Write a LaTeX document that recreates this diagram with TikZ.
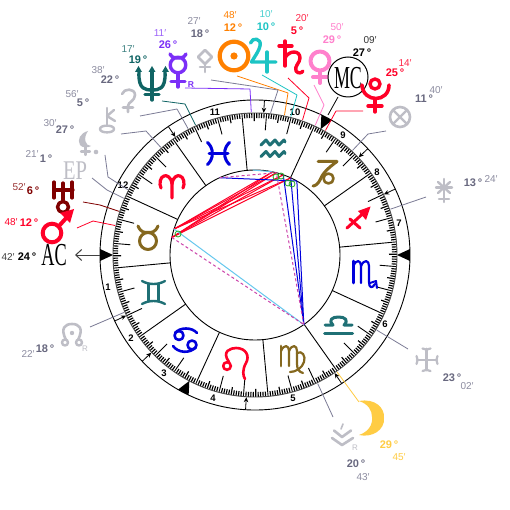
\documentclass[tikz,border=0pt]{standalone}
\usepackage{fontspec}
\setmainfont{Liberation Sans}
\newfontfamily\serifcond{Liberation Serif}
\usetikzlibrary{arrows.meta}
\definecolor{cred}{HTML}{FF0028}
\definecolor{cblue}{HTML}{0000DC}
\definecolor{cteal}{HTML}{1F7075}
\definecolor{colive}{HTML}{85681F}
\definecolor{csun}{HTML}{FF8000}
\definecolor{cjup}{HTML}{1CC4C4}
\definecolor{cven}{HTML}{FF80CC}
\definecolor{cmer}{HTML}{7B2FF7}
\definecolor{cnep}{HTML}{106464}
\definecolor{cura}{HTML}{800000}
\definecolor{cmoo}{HTML}{FFCC44}
\definecolor{cgly}{HTML}{BEBEC6}
\definecolor{ctxt}{HTML}{68687F}
\definecolor{cmin}{HTML}{8C8CA0}
\definecolor{clead}{HTML}{7C7C96}
\definecolor{cdash}{HTML}{CC44AA}
\definecolor{ccy}{HTML}{66C8EE}
\definecolor{cgreen}{HTML}{22AA22}
\newcommand{\RX}[2]{({255+#1*cos(#2)},{255-#1*sin(#2)})}
\tikzset{
 gly/.style={line width=#1,line cap=round,line join=round,fill=none},
 deg/.style={inner sep=0pt,font=\fontsize{11}{11}\selectfont\bfseries},
 mins/.style={inner sep=0pt,font=\fontsize{10}{10}\selectfont},
 hnum/.style={inner sep=0pt,font=\fontsize{9.5}{9.5}\selectfont\bfseries},
 lead/.style={line width=.8pt,line join=round},
 asp/.style={line width=1pt},
 ring/.style={draw=black,line width=.9pt},
 bigl/.style={inner sep=0pt,font=\fontsize{32}{32}\selectfont\serifcond},
}
\begin{document}
\begin{tikzpicture}[x=1pt,y=-1pt]
\useasboundingbox (0,0) rectangle (510,510);
\fill[white] (0,0) rectangle (510,510);
% ticks
\foreach \k in {0,...,359}{
  \pgfmathsetmacro{\a}{\k+125.3}
  \pgfmathsetmacro{\ri}{ifthenelse(mod(\k,30)==0,85,ifthenelse(mod(\k,10)==0,125,ifthenelse(mod(\k,5)==0,134,137)))}
  \pgfmathsetmacro{\lw}{ifthenelse(mod(\k,10)==0,0.9,1.15)}
  \draw[line width=\lw pt] \RX{\ri}{\a} -- \RX{142}{\a};
}
% circles
\coordinate (ctr) at (255,255);
\draw[ring] (ctr) circle[radius=155];
\draw[ring,draw=black!70] (ctr) circle[radius=142];
\draw[ring] (ctr) circle[radius=85];
% angles triangles
\foreach \a in {180,0,62.45,242.45}{
  \fill[black] \RX{142}{\a} -- \RX{155}{\a+2.2} -- \RX{155}{\a-2.2} -- cycle;
}
% cusp arrows
\foreach \a in {124,86.5,43.3,25.2,205.2,223.3,266.5,304}{
  \draw[line width=.8pt,-{Stealth[length=5pt,width=4.5pt]}] \RX{155}{\a} -- \RX{142.5}{\a};
}
% house numbers
\node[hnum] (h1) at (108,287) {1};
\node[hnum] (h2) at (131,338) {2};
\node[hnum] (h3) at (164,373) {3};
\node[hnum] (h4) at (213,398) {4};
\node[hnum] (h5) at (293,398) {5};
\node[hnum] (h6) at (385,324) {6};
\node[hnum] (h7) at (399,223) {7};
\node[hnum] (h8) at (377,172) {8};
\node[hnum] (h9) at (343,135) {9};
\node[hnum] (h10) at (295,112) {10};
\node[hnum] (h11) at (215,112) {11};
\node[hnum] (h12) at (123,185) {12};
% aspect points
\path \RX{85}{78.1} coordinate (aSun);
\path \RX{85}{75.5} coordinate (aJup);
\path \RX{85}{70.6} coordinate (aSat);
\path \RX{85}{65.1} coordinate (aVen);
\path \RX{85}{60.5} coordinate (aPlu);
\path \RX{85}{168.1} coordinate (aMar);
\path \RX{85}{162.2} coordinate (aUra);
\path \RX{85}{114.6} coordinate (aNep);
\path \RX{85}{-54.95} coordinate (aMoo);
\path \RX{85}{91.5} coordinate (aMer);
\foreach \p in {aSun,aJup,aSat,aVen}{
  \draw[asp,cred] (aUra) -- (\p);
  \draw[asp,cred] (aMar) -- (\p);
}
\draw[asp,cblue] (aMoo) -- (aSat);
\draw[asp,cblue] (aMoo) -- (aVen);
\draw[asp,cblue] (aMoo) -- (aPlu);
\draw[asp,cblue] (aNep) -- (aPlu);
\draw[asp,ccy] (aUra) -- (aMoo);
\draw[asp,ccy] (aMer) -- (aSun);
\draw[asp,cdash,dash pattern=on 3pt off 2.5pt] (aMar) -- (aMoo);
\draw[asp,cdash,dash pattern=on 3pt off 2.5pt] (aMoo) -- (aJup);
\draw[asp,cdash,dash pattern=on 3pt off 2.5pt] (aNep) -- (aJup);
\foreach \c in {(178,234),(276,177),(281,176),(288,183),(292,184)}{
  \draw[cgreen,line width=.8pt] \c circle[radius=3];
}
% leaders
\draw[lead,csun] (237,76) -- (288,93) -- \RX{143}{78.1};
\draw[lead,cjup] (262,75) -- (297,95) -- \RX{143}{75.5};
\draw[lead,cred] (288,78) -- (309,98) -- \RX{143}{70.6};
\draw[lead,cven] (314,85) -- (324,105) -- \RX{143}{65.1};
\draw[lead,cred] (363,111) -- (336,111) -- \RX{143}{60.5};
\draw[lead,black] (338,97) -- (328,115);
\draw[lead,clead] (211,80) -- (278,90) -- \RX{143}{83.75};
\draw[lead,cmer] (185,88) -- (250,89) -- \RX{143}{91.5};
\draw[lead,cnep] (162,101) -- (185,104) -- \RX{143}{114.6};
\draw[lead,clead] (140,116) -- (177,109) -- \RX{143}{117.9};
\draw[lead,clead] (121,134) -- (146,131) -- \RX{143}{131.2};
\draw[lead,clead] (105,155) -- (108,177) -- \RX{143}{152.8};
\draw[lead,clead] (92,178) -- (107,190) -- \RX{143}{156.6};
\draw[lead,cura] (83,202) -- (100,205) -- \RX{143}{162.2};
\draw[lead,cred] (77,228) -- (93,221) -- \RX{143}{168.1};
\draw[lead,clead] (386,131) -- (368,134) -- \RX{143}{47};
\draw[lead,clead] (426,197) -- \RX{143}{18.7};
\draw[lead,clead] (408,349) -- \RX{143}{-31.67};
\draw[lead,cmoo] (359,402) -- \RX{143}{-54.95};
\draw[lead,clead] (333,417) -- \RX{143}{-64};
\draw[lead,clead] (90,327) -- \RX{143}{203.67};
% AC arrow
\draw[line width=1pt,draw=black!75,-{Straight Barb[length=6pt,width=11pt]}] (100,255) -- (75,255);
% signs
\draw[gly=3.2pt,cred] (172,198) -- (172,184) .. controls (171,176) and (166,175) .. (164,176) .. controls (160,177) and (159,184) .. (161,188);
\draw[gly=3.2pt,cred] (172,184) .. controls (173,176) and (178,175) .. (180,176) .. controls (184,177) and (185,184) .. (183,188);
\draw[gly=3pt,colive] (148,241) circle[radius=8.5];
\draw[gly=3pt,colive] (138,226) .. controls (141,233) and (145,232.5) .. (148,232.5) .. controls (151,232.5) and (155,233) .. (158,226);
\draw[gly=2.4pt,cteal] (142,281) .. controls (149,285) and (158,285) .. (165,281);
\draw[gly=2.4pt,cteal] (142,304) .. controls (149,300) and (158,300) .. (165,304);
\draw[gly=2.4pt,cteal] (148.5,284) -- (148.5,301);
\draw[gly=2.4pt,cteal] (158.5,284) -- (158.5,301);
\draw[gly=2.6pt,cblue] (179,335.5) circle[radius=4.5];
\draw[gly=2.6pt,cblue] (192,345) circle[radius=4.5];
\draw[gly=2.6pt,cblue] (175,333) .. controls (180,327) and (192,327) .. (197,333);
\draw[gly=2.6pt,cblue] (196,347) .. controls (190,354) and (178,353) .. (173,346);
\draw[gly=2.6pt,cred] (227,366) circle[radius=3.8];
\draw[gly=2.6pt,cred] (229,362) .. controls (221,351) and (231,348) .. (236,348) .. controls (246,348) and (250,356) .. (246,363) .. controls (242,370) and (243,376) .. (245,379);
\draw[gly=2.8pt,colive] (281,346) -- (281,366);
\draw[gly=2.2pt,colive] (281,351) .. controls (284,344) and (289,345) .. (289,351) -- (289,366);
\draw[gly=2.2pt,colive] (289,351) .. controls (292,344) and (297,345) .. (297,351) -- (297,364) .. controls (297,369) and (299,372) .. (303,373);
\draw[gly=2.2pt,colive] (297,353) .. controls (302,350) and (306,356) .. (304,362) .. controls (302,368) and (296,372) .. (290,372);
\draw[gly=3pt,cteal] (324.5,333) -- (352.5,333);
\draw[gly=3pt,cteal] (325,325) -- (333,325) .. controls (328,320) and (332,317) .. (338.5,317) .. controls (345,317) and (349,320) .. (344,325) -- (352,325);
\draw[gly=2.8pt,cblue] (353.5,261) -- (353.5,283);
\draw[gly=2.2pt,cblue] (353.5,266) .. controls (356,259) and (361,260) .. (361,266) -- (361,283);
\draw[gly=2.2pt,cblue] (361,266) .. controls (364,259) and (369,260) .. (369,266) -- (369,282) .. controls (369,288) and (372,289) .. (375,284);
\draw[gly=2pt,cblue] (370,283) -- (376,281) -- (377,288);
\draw[gly=3pt,cred] (347,228) -- (368,209);
\draw[gly=3pt,cred] (350,219) -- (360,228);
\fill[cred] (370.5,206.5) -- (358,211) -- (366,220) -- cycle;
\draw[gly=3pt,colive] (318,161.5) -- (337,161.5) .. controls (328,168) and (322,174) .. (320,180) .. controls (318,184) and (315,186) .. (313,186);
\draw[gly=2.6pt,colive] (328.5,178.5) circle[radius=5];
\foreach \yy in {143,154.5}{
  \draw[gly=3pt,cteal] (261,\yy+2) -- (266,\yy-3) -- (270,\yy+2) -- (275,\yy-3) -- (279,\yy+2) -- (284,\yy-3) -- (285,\yy-1);
}
\draw[gly=3pt,cblue] (207.5,142.5) .. controls (214,148) and (214,159) .. (207.5,164.5);
\draw[gly=3pt,cblue] (229.5,142.5) .. controls (223,148) and (223,159) .. (229.5,164.5);
\draw[gly=3pt,cblue] (209,153.5) -- (228,153.5);
% Sun
\draw[gly=4.2pt,csun] (234,56) circle[radius=14.3];
\fill[csun] (234,56) circle[radius=3.6];
% Jupiter
\draw[gly=3.4pt,cjup] (250.5,43) .. controls (252,37) and (262,38) .. (260,46) .. controls (259,51) and (255,56) .. (251.5,62) -- (276,62);
\draw[gly=3.4pt,cjup] (267,52) -- (267,72);
% Saturn
\draw[gly=3.4pt,cred] (285,41) -- (285,66);
\draw[gly=3.4pt,cred] (279,46) -- (292,46);
\draw[gly=3.4pt,cred] (285,58) .. controls (289,50) and (300,50) .. (300,58) .. controls (300,63) and (294,66) .. (296,71) .. controls (298,74) and (302,73) .. (303,71);
% Venus
\draw[gly=4pt,cven] (320,61) circle[radius=9.5];
\draw[gly=4pt,cven] (320,71) -- (320,83);
\draw[gly=4pt,cven] (313,77) -- (327,77);
% MC
\node[draw=black,line width=1pt,fill=white,circle,minimum size=40pt,inner sep=0pt] (mc) at (348,77) {};
\node[bigl] (mctx) at (348,78) {\scalebox{.56}[1]{MC}};
% Pluto
\draw[gly=3.4pt,cred] (375,84) circle[radius=5];
\draw[gly=3.6pt,cred] (362,85) .. controls (363,103) and (389,103) .. (389,85);
\draw[gly=3.4pt,cred] (375,99) -- (375,112);
\draw[gly=3.4pt,cred] (368,106) -- (382,106);
% Circle X
\draw[gly=2.6pt,cgly] (400,117) circle[radius=10];
\draw[gly=2.4pt,cgly] (393,110) -- (407,124);
\draw[gly=2.4pt,cgly] (393,124) -- (407,110);
% Star
\draw[gly=2.4pt,cgly] (444,179) -- (444,202);
\draw[gly=2.4pt,cgly] (436,187.5) -- (452,187.5);
\draw[gly=2.4pt,cgly] (438,182) -- (450,193);
\draw[gly=2.4pt,cgly] (438,193) -- (450,182);
\draw[gly=2.4pt,cgly] (439,199) -- (449,199);
% Cross
\draw[gly=2.6pt,cgly] (417,360) -- (437,360);
\draw[gly=2.6pt,cgly] (426.5,349) -- (426.5,370);
\draw[gly=2.2pt,cgly] (416.5,356) .. controls (418,359) and (418,361) .. (416.5,364);
\draw[gly=2.2pt,cgly] (437.5,356) .. controls (436,359) and (436,361) .. (437.5,364);
\draw[gly=2.2pt,cgly] (422.5,348.5) .. controls (425,350) and (428,350) .. (430.5,348.5);
\draw[gly=2.2pt,cgly] (422.5,371) .. controls (425,369.5) and (428,369.5) .. (430.5,371);
% Moon
\fill[cmoo] (359,401) .. controls (375,398) and (385,408) .. (384,418) .. controls (385,430) and (372,438) .. (359,435) .. controls (368,432) and (373,425) .. (372,417) .. controls (372,410) and (368,404) .. (359,401) -- cycle;
% Vertex
\draw[gly=2.6pt,cgly] (332,438) -- (342,445) -- (353,438);
\draw[gly=2.6pt,cgly] (334,430.5) -- (342,437) -- (351,430.5);
\draw[gly=1.6pt,cgly] (341,429) -- (343,424);
\node[inner sep=0pt,font=\fontsize{8}{8}\selectfont,text=cgly] (rV) at (355,448) {R};
% Node
\draw[gly=2.6pt,cgly] (66,340) .. controls (60,328) and (65,324) .. (72,324) .. controls (79,324) and (84,328) .. (78,340);
\fill[cgly] (72,333) circle[radius=2.2];
\draw[gly=2.4pt,cgly] (65,342.5) circle[radius=3];
\draw[gly=2.4pt,cgly] (79,342.5) circle[radius=3];
\node[inner sep=0pt,font=\fontsize{8}{8}\selectfont,text=cgly] (rN) at (85,349) {R};
% Uranus
\draw[gly=3.2pt,cura] (63,183) -- (63,200);
\draw[gly=3.2pt,cura] (54,190) -- (73,190);
\draw[gly=3.2pt,cura] (54,182) -- (54,198);
\draw[gly=3.2pt,cura] (72,182) -- (72,198);
\draw[gly=3.4pt,cura] (63,207) circle[radius=5.5];
% Mars
\draw[gly=4pt,cred] (52,233) circle[radius=9.3];
\draw[gly=4pt,cred] (59,226) -- (68,216);
\fill[cred] (74,209) -- (60,213) -- (70,223) -- cycle;
% EP
\node[bigl,text=cgly,font=\fontsize{27}{27}\selectfont\serifcond] (ep) at (75,171) {\scalebox{.76}[1]{EP}};
% Lilith
\fill[cgly] (88,131) .. controls (80,133) and (77,140) .. (80,145) .. controls (82,148) and (88,148) .. (91,146) .. controls (85,146) and (83,138) .. (88,131) -- cycle;
\draw[gly=2.2pt,cgly] (85.5,147) -- (85.5,155);
\draw[gly=2.2pt,cgly] (81,151.5) -- (90,151.5);
\fill[cgly] (96,152) circle[radius=2.3];
% Chiron
\draw[gly=2.4pt,cgly] (107,108) -- (107,125);
\draw[gly=2.4pt,cgly] (114,110) -- (107,116) -- (115,121);
\draw[gly=2.4pt,cgly] (100,129) .. controls (100,124.5) and (114,124.5) .. (114,129) .. controls (114,133.5) and (100,133.5) .. (100,129) -- cycle;
% Ceres
\draw[gly=2.6pt,cgly] (122,94) .. controls (124,88) and (135,88) .. (135,95) .. controls (135,101) and (128,102) .. (128,106) -- (128,112);
\draw[gly=2.6pt,cgly] (123,107.5) -- (133,107.5);
% Neptune
\draw[gly=3.4pt,cnep] (152,70) -- (152,100);
\draw[gly=3.4pt,cnep] (139,72) .. controls (138,90) and (146,90) .. (152,90) .. controls (158,90) and (166,90) .. (165,72);
\draw[gly=3.4pt,cnep] (145,94.5) -- (159,94.5);
\foreach \xx in {138.5,152,165.5}{
  \fill[cnep] (\xx,66) -- (\xx-3.5,72) -- (\xx+3.5,72) -- cycle;
}
% Mercury
\draw[gly=3.4pt,cmer] (178,65) circle[radius=7.8];
\draw[gly=3.4pt,cmer] (170,54) .. controls (172,58) and (175,58) .. (178,58) .. controls (181,58) and (184,58) .. (186,54);
\draw[gly=3.4pt,cmer] (178,73) -- (178,87);
\draw[gly=3.4pt,cmer] (171,81.5) -- (185,81.5);
\node[inner sep=0pt,font=\fontsize{8.5}{8.5}\selectfont\bfseries,text=cmer] (rM) at (191,84.5) {R};
% Vesta
\draw[gly=2.6pt,cgly] (205,50) -- (212,57) -- (205,64) -- (198,57) -- cycle;
\draw[gly=2.6pt,cgly] (205,64) -- (205,72);
\draw[gly=2.6pt,cgly] (200,67) -- (210,67);
% AC
\node[bigl] (ac) at (54,255) {\scalebox{.57}[1]{AC}};
% labels
\node[mins,text=csun] (t1) at (230,15) {48′};
\node[deg,text=csun] (t2) at (233,28) {12\,°};
\node[mins,text=cmin] (t3) at (194,21) {27′};
\node[deg,text=ctxt] (t4) at (200,34) {18\,°};
\node[mins,text=cmer!75] (t5) at (160,33) {11′};
\node[deg,text=cmer] (t6) at (168,45) {26\,°};
\node[mins,text=cnep!80] (t7) at (128,49) {17′};
\node[deg,text=cnep] (t8) at (138,60) {19\,°};
\node[mins,text=cmin] (t9) at (98,70) {38′};
\node[deg,text=ctxt] (t10) at (110,80) {22\,°};
\node[mins,text=cmin] (t11) at (72,94) {56′};
\node[deg,text=ctxt] (t12) at (83,103) {5\,°};
\node[mins,text=cmin] (t13) at (50,123) {30′};
\node[deg,text=ctxt] (t14) at (65,130) {27\,°};
\node[mins,text=cmin] (t15) at (32,154) {21′};
\node[deg,text=ctxt] (t16) at (46,159) {1\,°};
\node[mins,text=cura!80] (t17) at (19,187) {52′};
\node[deg,text=cura] (t18) at (33,191) {6\,°};
\node[mins,text=cred] (t19) at (11,222) {48′};
\node[deg,text=cred] (t20) at (29,223) {12\,°};
\node[mins,text=black!75] (t21) at (8,257) {42′};
\node[deg,text=black] (t22) at (27,257) {24\,°};
\node[mins,text=cmin] (t23) at (28,354) {22′};
\node[deg,text=ctxt] (t24) at (45,349) {18\,°};
\node[deg,text=ctxt] (t25) at (452,378) {23\,°};
\node[mins,text=cmin] (t26) at (467,386) {02′};
\node[deg,text=cmoo] (t27) at (389,445) {29\,°};
\node[mins,text=cmoo] (t28) at (399,457) {45′};
\node[deg,text=ctxt] (t29) at (356,464) {20\,°};
\node[mins,text=cmin] (t30) at (363,477) {43′};
\node[mins,text=cjup!80] (t31) at (266,14) {10′};
\node[deg,text=cjup] (t32) at (266,27) {10\,°};
\node[mins,text=cred!85] (t33) at (302,18) {20′};
\node[deg,text=cred] (t34) at (297,31) {5\,°};
\node[mins,text=cven] (t35) at (337,27) {50′};
\node[deg,text=cven] (t36) at (332,40) {29\,°};
\node[mins,text=black!80] (t37) at (370,40) {09′};
\node[deg,text=black] (t38) at (362,53) {27\,°};
\node[mins,text=cred!85] (t39) at (405,63) {14′};
\node[deg,text=cred] (t40) at (395,73) {25\,°};
\node[mins,text=cmin] (t41) at (436,90) {40′};
\node[deg,text=ctxt] (t42) at (424,99) {11\,°};
\node[deg,text=ctxt] (t43) at (473,183) {13\,°};
\node[mins,text=cmin] (t44) at (491,179) {24′};
\end{tikzpicture}
\end{document}
